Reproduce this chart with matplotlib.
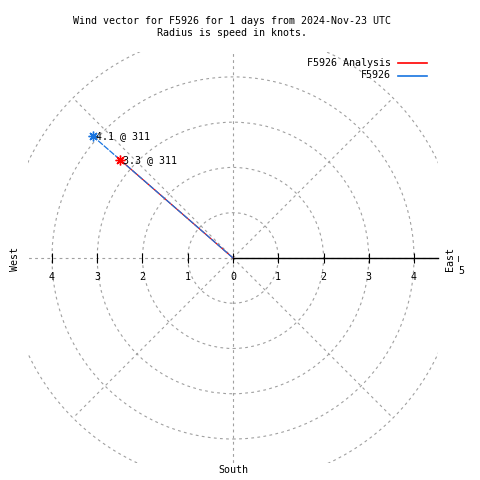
import numpy as np
import matplotlib
matplotlib.use("Agg")
import matplotlib.pyplot as plt
from matplotlib.patches import Circle
from matplotlib.lines import Line2D

# ---- data ----
title_lines = ["Wind vector for F5926 for 1 days from 2024-Nov-23 UTC",
               "Radius is speed in knots."]
series_names = ["F5926 Analysis", "F5926"]
speeds = [3.3, 4.1]          # knots
directions = [311, 311]      # degrees (compass)
series_colors = ["#ff0000", "#1874e0"]
ring_radii = [1, 2, 3, 4, 5]
spoke_angles = [0, 45, 90, 135, 180, 225, 270, 315]
tick_values = [-4, -3, -2, -1, 0, 1, 2, 3, 4]
r_lim = 4.53

FONT = "DejaVu Sans Mono"
FS = 7.2
GRID = "#a0a0a0"

fig = plt.figure(figsize=(4.8, 4.8), dpi=100)
ax = fig.add_axes([28 / 480, 17 / 480, 410 / 480, 411 / 480])
ax.set_xlim(-r_lim, r_lim)
ax.set_ylim(-r_lim, 4.55)

for s in ["top", "left", "right"]:
    ax.spines[s].set_visible(False)
ax.spines["bottom"].set_position(("data", 0))
ax.spines["bottom"].set_bounds(0, r_lim)
ax.spines["bottom"].set_linewidth(1.0)
ax.spines["bottom"].set_zorder(5)
ax.set_yticks([])
ax.set_xticks(tick_values)
ax.set_xticklabels([str(abs(v)) for v in tick_values], fontfamily=FONT, fontsize=FS)
ax.tick_params(axis="x", direction="inout", length=7, width=0.8, pad=6.5)

# grid rings and spokes
for r in ring_radii:
    ax.add_patch(Circle((0, 0), r, fill=False, ec=GRID, lw=0.8,
                        ls=(0, (2.5, 3)), zorder=1))
for a in spoke_angles:
    t = np.radians(a)
    ax.plot([0, 5 * np.cos(t)], [0, 5 * np.sin(t)], color=GRID, lw=0.8,
            ls=(0, (2.5, 3)), zorder=1)

# series
for i, (name, spd, d, c) in enumerate(zip(series_names, speeds, directions, series_colors)):
    t = np.radians(90 - d)
    x, y = spd * np.cos(t), spd * np.sin(t)
    ls = "-" if i == 0 else (0, (5, 1))
    ax.plot([0, x], [0, y], color=c, lw=0.9, ls=ls, zorder=3 + i)
    ax.plot([x], [y], marker=(8, 2, 0), ms=7, mew=1, color=c, ls="none", zorder=6)
    ax.annotate(f"{spd} @ {d}", (x, y), xytext=(2, 0), textcoords="offset points",
                ha="left", va="center", fontfamily=FONT, fontsize=FS, zorder=7)

# titles
fig.text(232 / 480, 1 - 21 / 480, title_lines[0], ha="center", va="center",
         fontfamily=FONT, fontsize=FS)
fig.text(232 / 480, 1 - 33.5 / 480, title_lines[1], ha="center", va="center",
         fontfamily=FONT, fontsize=FS)

# legend
for i, (name, c) in enumerate(zip(series_names, series_colors)):
    yy = 1 - (63 + 12.5 * i) / 480
    fig.text(391 / 480, yy, name, ha="right", va="center", fontfamily=FONT, fontsize=FS)
    fig.add_artist(Line2D([398 / 480, 427 / 480], [yy, yy], color=c, lw=1.2))

# compass labels
fig.text(15 / 480, 1 - 259 / 480, "West", rotation=90, ha="center", va="center",
         fontfamily=FONT, fontsize=FS)
fig.text(450 / 480, 1 - 259 / 480, "East", rotation=90, ha="center", va="center",
         fontfamily=FONT, fontsize=FS)
fig.text(459 / 480, 1 - 258 / 480, "\u2014", rotation=90, ha="center", va="center",
         fontfamily=FONT, fontsize=FS)
fig.text(461 / 480, 1 - 271 / 480, "5", ha="center", va="center",
         fontfamily=FONT, fontsize=FS)
fig.text(233 / 480, 1 - 470 / 480, "South", ha="center", va="center",
         fontfamily=FONT, fontsize=FS)

fig.savefig("out.png", dpi=100)
